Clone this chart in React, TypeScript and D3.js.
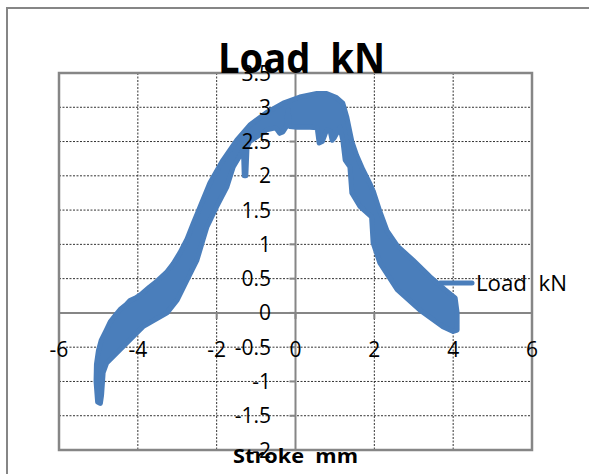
import * as d3 from 'd3'
import { useMemo } from 'react'

const chartTitle = 'Load  kN'
const xAxisTitle = 'Stroke  mm'
const seriesName = 'Load  kN'

const xTicks = [-6, -4, -2, 0, 2, 4, 6]
const yTicks = [3.5, 3, 2.5, 2, 1.5, 1, 0.5, 0, -0.5, -1, -1.5, -2]

// outer (upper / left) edge of the noisy band, left to right
const upperEdge: [number, number][] = [
  [-5.02, -1.3], [-5.06, -1.0], [-5.05, -0.75], [-5.0, -0.55], [-4.93, -0.4],
  [-4.8, -0.25], [-4.7, -0.13], [-4.55, -0.02], [-4.45, 0.05], [-4.3, 0.12],
  [-4.2, 0.18], [-4.05, 0.22], [-3.9, 0.28], [-3.7, 0.38], [-3.5, 0.47],
  [-3.26, 0.6], [-3.1, 0.72], [-2.93, 0.88], [-2.75, 1.08], [-2.6, 1.3],
  [-2.42, 1.55], [-2.17, 1.9], [-1.84, 2.23], [-1.49, 2.52], [-1.16, 2.74],
  [-0.74, 2.92], [-0.31, 3.06], [0.11, 3.15], [0.54, 3.2], [0.79, 3.2],
  [1.04, 3.14], [1.2, 3.06], [1.3, 2.86], [1.43, 2.5], [1.55, 2.3],
  [1.71, 2.09], [1.9, 1.87], [1.97, 1.78], [2.14, 1.48], [2.32, 1.2],
  [2.58, 0.98], [2.98, 0.77], [3.41, 0.53], [3.79, 0.34], [4.05, 0.22],
  [4.1, 0.0], [4.1, -0.25],
]

// inner (lower / right) edge, right to left
const lowerEdge: [number, number][] = [
  [4.0, -0.27], [3.74, -0.2], [3.16, 0.04], [2.58, 0.34], [2.14, 0.73],
  [1.97, 1.02], [1.93, 1.4], [1.64, 1.55], [1.43, 1.75], [1.38, 2.13],
  [1.26, 2.23], [1.2, 2.52], [1.13, 2.71], [0.98, 2.55], [0.93, 2.52],
  [0.88, 2.65], [0.79, 2.67], [0.68, 2.5], [0.6, 2.48], [0.55, 2.7],
  [0.37, 2.71], [0.04, 2.71], [-0.15, 2.72], [-0.19, 2.96], [-0.23, 2.72],
  [-0.32, 2.64], [-0.4, 2.62], [-0.5, 2.7], [-0.74, 2.67], [-0.9, 2.6],
  [-1.16, 2.5], [-1.23, 2.42], [-1.26, 2.0], [-1.3, 2.0], [-1.32, 2.38],
  [-1.58, 2.13], [-1.74, 1.84], [-2.0, 1.55], [-2.25, 1.25], [-2.35, 1.06],
  [-2.5, 0.77], [-2.75, 0.48], [-3.0, 0.19], [-3.26, 0.0], [-3.87, -0.2],
  [-4.2, -0.39], [-4.53, -0.58], [-4.79, -0.73], [-4.88, -0.87], [-4.92, -1.2],
  [-4.95, -1.32],
]

const W = 589
const H = 474
const blue = '#4a7ebb'
const axisGray = '#868686'
const font = '"Open Sans", "Liberation Sans", sans-serif'

export default function App() {
  const x = useMemo(() => d3.scaleLinear().domain([-6, 6]).range([59, 532]), [])
  const y = useMemo(() => d3.scaleLinear().domain([-2, 3.5]).range([450, 73]), [])

  const bandPath = useMemo(() => {
    const line = d3.line<[number, number]>().x((d) => x(d[0])).y((d) => y(d[1]))
    return line([...upperEdge, ...lowerEdge]) + 'Z'
  }, [x, y])

  const x0 = x(0)
  const y0 = y(0)

  return (
    <svg width={W} height={H} style={{ position: 'absolute', left: 0, top: 0 }}>
      <rect x={0} y={0} width={W} height={H} fill="#fff" />
      {/* chart area border */}
      <rect x={7} y={8} width={620} height={500} fill="none" stroke={axisGray} strokeWidth={2} />

      {/* gridlines */}
      <g stroke="#333" strokeWidth={1} strokeDasharray="2,1.5">
        {yTicks.map((t) => (
          <line key={'gy' + t} x1={x(-6)} x2={x(6)} y1={y(t)} y2={y(t)} />
        ))}
        {xTicks.map((t) => (
          <line key={'gx' + t} x1={x(t)} x2={x(t)} y1={y(3.5)} y2={y(-2)} />
        ))}
      </g>

      {/* plot area border */}
      <rect x={x(-6)} y={y(3.5)} width={x(6) - x(-6)} height={y(-2) - y(3.5)}
        fill="none" stroke={axisGray} strokeWidth={2.5} />

      {/* axes */}
      <g stroke={axisGray} strokeWidth={2}>
        <line x1={x0} x2={x0} y1={y(3.5)} y2={y(-2)} />
        <line x1={x(-6)} x2={x(6)} y1={y0} y2={y0} />
        {yTicks.map((t) => (
          <line key={'ty' + t} x1={x0 - 6} x2={x0} y1={y(t)} y2={y(t)} />
        ))}
        {xTicks.map((t) => (
          <line key={'tx' + t} x1={x(t)} x2={x(t)} y1={y0} y2={y0 + 6} />
        ))}
      </g>

      {/* series */}
      <path d={bandPath} fill={blue} stroke={blue} strokeWidth={5} strokeLinejoin="round" />

      {/* tick labels */}
      <g fontFamily={font} fontSize={21} fill="#000">
        {yTicks.map((t) => (
          <text key={'ly' + t} x={271} y={y(t)} dy="0.36em" textAnchor="end">
            {t}
          </text>
        ))}
        {xTicks.map((t) => (
          <text key={'lx' + t} x={x(t)} y={349} dy="0.36em" textAnchor="middle">
            {t}
          </text>
        ))}
      </g>

      {/* titles */}
      <text x={218} y={73} fontFamily={font} fontWeight="bold" fontSize={41}
        textLength={167} lengthAdjust="spacingAndGlyphs" style={{ whiteSpace: 'pre' }}>
        {chartTitle}
      </text>
      <text x={233} y={463} fontFamily={font} fontWeight="bold" fontSize={20}
        textLength={125} lengthAdjust="spacingAndGlyphs" style={{ whiteSpace: 'pre' }}>
        {xAxisTitle}
      </text>

      {/* legend */}
      <line x1={440} x2={472} y1={283} y2={283} stroke={blue} strokeWidth={5} strokeLinecap="round" />
      <text x={476} y={291} fontFamily={font} fontSize={22} textLength={91}
        lengthAdjust="spacingAndGlyphs" style={{ whiteSpace: 'pre' }}>
        {seriesName}
      </text>
    </svg>
  )
}
